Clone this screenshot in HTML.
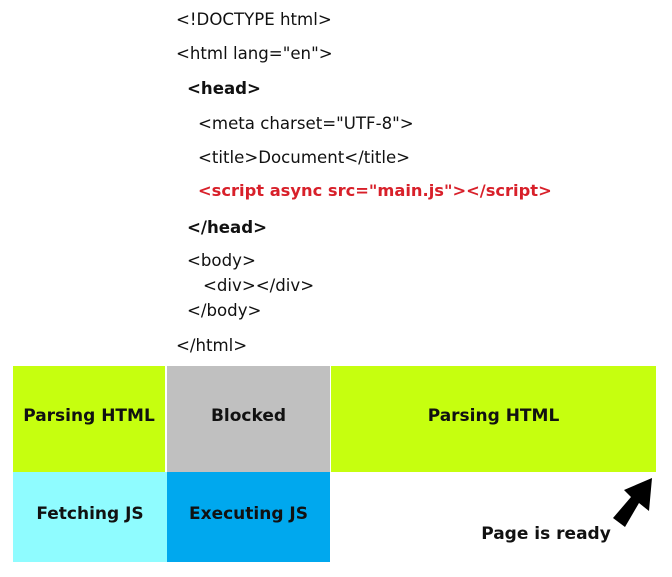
<!DOCTYPE html>
<html><head><meta charset="utf-8"><style>
body{margin:0;width:672px;height:577px;background:#fff;position:relative;overflow:hidden;font-family:"DejaVu Sans","Liberation Sans",sans-serif;}
.t{position:absolute;font-size:16.6px;color:#111;white-space:nowrap;line-height:20px;}
.b{font-weight:bold;}
.r{color:#d8202a;font-weight:bold;font-size:16.3px;}
.box{position:absolute;display:flex;align-items:center;justify-content:center;font-weight:bold;font-size:17px;color:#111;box-sizing:border-box;padding-bottom:6px;}
</style></head><body>
<div class="t" style="left:176px;top:10px">&lt;!DOCTYPE html&gt;</div>
<div class="t" style="left:176px;top:44px">&lt;html lang="en"&gt;</div>
<div class="t b" style="left:187px;top:79px">&lt;head&gt;</div>
<div class="t" style="left:198px;top:114px">&lt;meta charset="UTF-8"&gt;</div>
<div class="t" style="left:198px;top:148px">&lt;title&gt;Document&lt;/title&gt;</div>
<div class="t r" style="left:198px;top:181px">&lt;script async src="main.js"&gt;&lt;/script&gt;</div>
<div class="t b" style="left:187px;top:218px">&lt;/head&gt;</div>
<div class="t" style="left:187px;top:251px">&lt;body&gt;</div>
<div class="t" style="left:203px;top:276px">&lt;div&gt;&lt;/div&gt;</div>
<div class="t" style="left:187px;top:301px">&lt;/body&gt;</div>
<div class="t" style="left:176px;top:336px">&lt;/html&gt;</div>
<div class="box" style="left:13px;top:366px;width:152px;height:106px;background:#c6ff0f">Parsing HTML</div>
<div class="box" style="left:167px;top:366px;width:163px;height:106px;background:#c0c0c0">Blocked</div>
<div class="box" style="left:331px;top:366px;width:325px;height:106px;background:#c6ff0f">Parsing HTML</div>
<div class="box" style="left:13px;top:472px;width:154px;height:90px;background:#8ffcff">Fetching JS</div>
<div class="box" style="left:167px;top:472px;width:163px;height:90px;background:#00a8ee">Executing JS</div>
<div class="box" style="left:476px;top:522px;width:140px;height:24px;padding:0;">Page is ready</div>
<svg style="position:absolute;left:0;top:0" width="672" height="577">
<polygon points="652,478 649,511 639,503 625,527 613,518 631,497 624,490" fill="#000"/>
</svg>
</body></html>
